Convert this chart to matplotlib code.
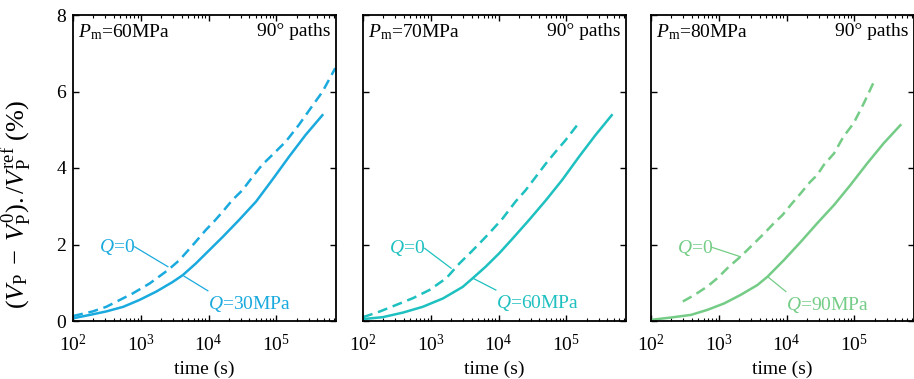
import numpy as np
import matplotlib
matplotlib.use('Agg')
import matplotlib.pyplot as plt

plt.rcParams['font.family'] = ['Liberation Serif', 'DejaVu Serif']
plt.rcParams['mathtext.fontset'] = 'custom'
plt.rcParams['mathtext.rm'] = 'Liberation Serif'
plt.rcParams['mathtext.it'] = 'Liberation Serif:italic'
plt.rcParams['font.size'] = 14

# ---- data (time in s, change in %) ----
pm_labels = ['60MPa', '70MPa', '80MPa']
q_labels = ['30MPa', '60MPa', '90MPa']
colors = ['#1aaade', '#1ec0c0', '#74cc86']

# Pm = 60 MPa
t1_q0 = [100, 195, 309, 490, 759, 1349, 2512, 3715, 6166, 9120, 12020, 16220,
         22390, 31620, 44670, 61660, 87100, 138000, 213800, 338800, 478600, 741300]
y1_q0 = [0.13, 0.25, 0.37, 0.55, 0.72, 0.98, 1.33, 1.59, 2.03, 2.38, 2.60, 2.86,
         3.16, 3.42, 3.77, 4.08, 4.34, 4.69, 5.12, 5.62, 5.99, 6.61]
t1_q = [100, 178, 309, 550, 955, 1698, 2951, 4169, 6457, 10230, 16220, 28180,
        50120, 87100, 154900, 269200, 478600]
y1_q = [0.07, 0.16, 0.25, 0.37, 0.55, 0.77, 1.02, 1.20, 1.50, 1.85, 2.20, 2.64,
        3.12, 3.69, 4.30, 4.86, 5.38]

# Pm = 70 MPa
t2_q0 = [100, 178, 309, 550, 955, 1698, 2630, 3715, 5248, 7244, 11480, 17780,
         25120, 35480, 50120, 69180, 97720, 144500]
y2_q0 = [0.10, 0.25, 0.42, 0.60, 0.81, 1.12, 1.50, 1.76, 2.03, 2.29, 2.68, 3.12,
         3.42, 3.77, 4.12, 4.42, 4.73, 5.12]
t2_q = [100, 195, 389, 759, 1514, 2951, 4169, 6457, 10230, 16220, 28180, 50120,
        87100, 154900, 269200, 467700]
y2_q = [0.05, 0.10, 0.22, 0.37, 0.59, 0.89, 1.12, 1.42, 1.77, 2.16, 2.64, 3.16,
        3.69, 4.30, 4.86, 5.38]

# Pm = 80 MPa
t3_q0 = [295, 437, 676, 955, 1413, 2089, 2951, 4677, 6457, 8710, 11480, 16220,
         22390, 28180, 35480, 50120, 69180, 97720, 138000, 190500]
y3_q0 = [0.51, 0.68, 0.90, 1.12, 1.42, 1.68, 1.94, 2.29, 2.55, 2.77, 3.03, 3.34,
         3.64, 3.81, 4.08, 4.38, 4.82, 5.17, 5.69, 6.22]
t3_q = [100, 195, 389, 676, 1202, 2089, 3715, 5248, 9120, 16220, 28180, 50120,
        87100, 154900, 269200, 478600]
y3_q = [0.03, 0.09, 0.16, 0.29, 0.46, 0.68, 0.94, 1.16, 1.59, 2.07, 2.55, 3.03,
        3.55, 4.12, 4.64, 5.12]

series = [(t1_q0, y1_q0, t1_q, y1_q),
          (t2_q0, y2_q0, t2_q, y2_q),
          (t3_q0, y3_q0, t3_q, y3_q)]

# pointer lines: (text end, tip on curve) for Q=0 and for Q=...
ptr_q0 = [((813, 1.94), (2512, 1.42)), ((813, 1.90), (1995, 1.38)), ((813, 1.92), (2089, 1.68))]
ptr_q = [((4365, 1.17), (9772, 0.79)), ((4169, 1.12), (9120, 0.81)), ((5248, 1.16), (9772, 0.77))]

fig = plt.figure(figsize=(9.14, 3.79), dpi=100)
lefts = [73, 363, 651]
for i in range(3):
    ax = fig.add_axes([lefts[i] / 914, 58 / 379, 263 / 914, 306 / 379])
    c = colors[i]
    tq0, yq0, tq, yq = series[i]
    ax.plot(tq0, yq0, color=c, lw=1.8, dashes=(4, 2.3))
    ax.plot(tq, yq, color=c, lw=1.8)
    ax.set_xscale('log')
    ax.set_xlim(100, 7.6e5)
    ax.set_ylim(0, 8)
    ax.set_yticks([0, 2, 4, 6, 8])
    ax.set_xticks([1e2, 1e3, 1e4, 1e5])
    ax.tick_params(which='both', direction='in', top=True, right=True)
    ax.tick_params(which='major', length=4, width=1)
    ax.tick_params(which='minor', length=2, width=0.8)
    ax.tick_params(axis='x', which='major', pad=9)
    ax.tick_params(axis='y', which='major', pad=5)
    for s in ax.spines.values():
        s.set_linewidth(1.3)
    if i > 0:
        ax.set_yticklabels([])
    else:
        ax.set_ylabel(r'$(V_\mathrm{P}\;-\;V_\mathrm{P}^0)./V_\mathrm{P}^\mathrm{ref}$ (%)',
                      fontsize=19)
        ax.yaxis.set_label_coords(-0.15, 0.38)
    ax.set_xlabel('time (s)', labelpad=4)

    ax.text(0.02, 0.975, r'$P_\mathrm{m}$=' + pm_labels[i], transform=ax.transAxes,
            ha='left', va='top')
    ax.text(0.98, 0.975, '90° paths', transform=ax.transAxes, ha='right', va='top')

    # labels with pointer lines
    (a0, b0) = ptr_q0[i]
    ax.plot([a0[0], b0[0]], [a0[1], b0[1]], color=c, lw=0.9)
    ax.text(a0[0], a0[1], r'$Q$=0', color=c, ha='right', va='center')
    (a1, b1) = ptr_q[i]
    ax.plot([a1[0], b1[0]], [a1[1], b1[1]], color=c, lw=0.9)
    ax.text(b1[0], b1[1] - 0.35, r'$Q$=' + q_labels[i], color=c, ha='left', va='center')

fig.savefig('out.png', dpi=100)
